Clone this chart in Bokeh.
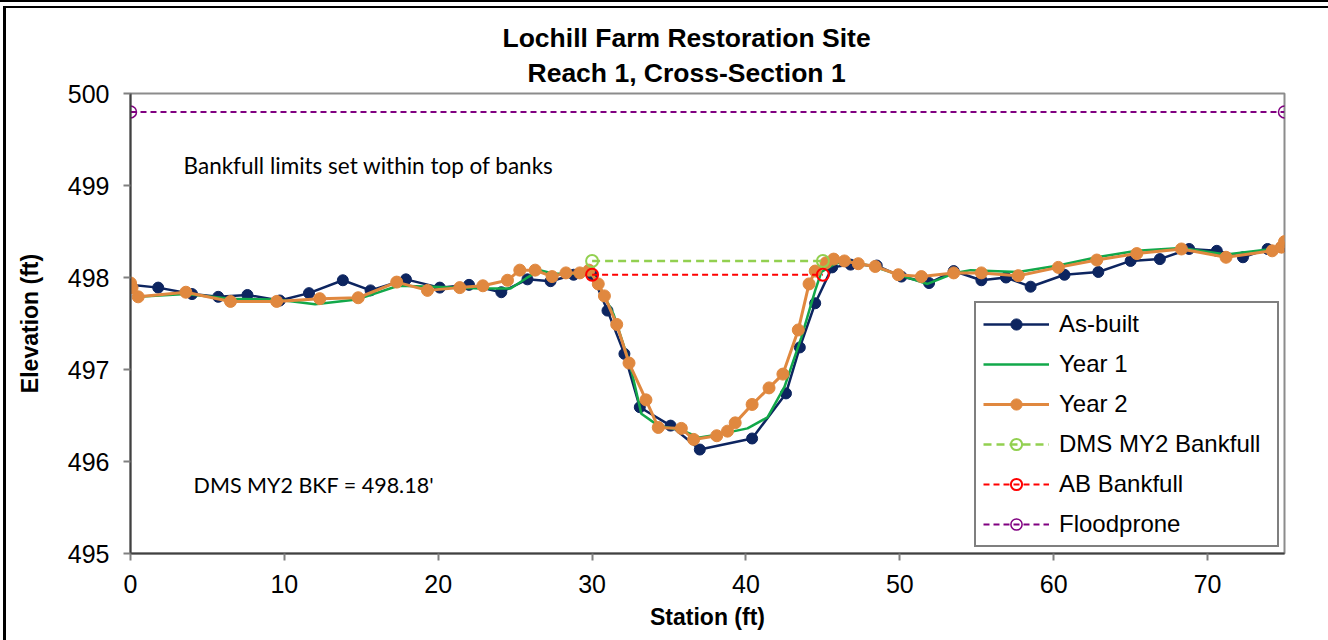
from bokeh.plotting import figure
from bokeh.models import Legend, LegendItem, Label, FixedTicker, Title
from bokeh.embed import file_html
from bokeh.resources import INLINE

# Survey data: station (ft) and elevation (ft)
asbuilt_sta = [0.0, 1.8, 4.0, 5.7, 7.6, 9.7, 11.6, 13.8, 15.6, 17.9, 20.1, 22.0, 24.1, 25.8,
               27.3, 28.8, 30.0, 31.0, 32.1, 33.1, 35.1, 37.0, 40.4, 42.6, 43.5, 44.5, 45.6,
               46.8, 48.5, 50.1, 51.9, 53.5, 55.3, 56.9, 58.5, 60.7, 62.9, 65.0, 66.9, 68.8,
               70.6, 72.3, 73.9, 74.8]
asbuilt_elev = [497.92, 497.89, 497.82, 497.79, 497.81, 497.75, 497.83, 497.97, 497.86, 497.98,
                497.89, 497.92, 497.84, 497.98, 497.96, 498.03, 498.03, 497.64, 497.17, 496.59,
                496.39, 496.13, 496.25, 496.74, 497.24, 497.72, 498.11, 498.14, 498.13, 498.01,
                497.94, 498.07, 497.97, 498.00, 497.90, 498.03, 498.06, 498.18, 498.20, 498.31,
                498.29, 498.22, 498.31, 498.33]

year1_sta = [0.0, 0.5, 3.6, 6.5, 9.5, 12.0, 14.7, 17.4, 19.7, 22.8, 24.7, 25.7, 26.6, 27.5,
             29.5, 30.1, 31.4, 32.5, 33.2, 34.3, 35.8, 37.0, 38.4, 40.1, 41.4, 42.5, 43.6,
             44.5, 44.9, 45.8, 46.5, 48.3, 50.1, 51.8, 53.6, 54.6, 57.7, 60.3, 62.8, 65.4,
             68.3, 71.2, 74.2, 75.0]
year1_elev = [497.90, 497.79, 497.82, 497.77, 497.76, 497.71, 497.76, 497.91, 497.90, 497.88,
              497.88, 497.99, 498.08, 498.04, 498.04, 498.02, 497.60, 497.03, 496.52, 496.39,
              496.34, 496.26, 496.30, 496.36, 496.48, 496.81, 497.35, 497.86, 498.06, 498.15,
              498.18, 498.12, 498.02, 497.93, 498.05, 498.08, 498.06, 498.13, 498.22, 498.29,
              498.32, 498.25, 498.31, 498.36]

year2_sta = [0.0, 0.1, 0.5, 3.6, 6.5, 9.5, 12.3, 14.8, 17.3, 19.3, 21.4, 22.9, 24.5, 25.3,
             26.3, 27.4, 28.3, 29.2, 29.8, 30.4, 30.8, 31.6, 32.4, 33.5, 34.3, 35.8, 36.6,
             38.1, 38.8, 39.3, 40.4, 41.5, 42.4, 43.4, 44.1, 44.5, 45.2, 45.7, 46.4, 47.3,
             48.4, 49.9, 51.4, 53.5, 55.3, 57.7, 60.3, 62.8, 65.4, 68.3, 71.2, 74.2, 74.8, 75.0]
year2_elev = [497.94, 497.89, 497.79, 497.84, 497.74, 497.74, 497.77, 497.78, 497.95, 497.86,
              497.89, 497.91, 497.97, 498.08, 498.08, 498.01, 498.05, 498.05, 498.08, 497.93,
              497.80, 497.49, 497.07, 496.67, 496.37, 496.36, 496.24, 496.28, 496.33, 496.42,
              496.62, 496.80, 496.95, 497.43, 497.93, 498.07, 498.16, 498.20, 498.18, 498.15,
              498.12, 498.03, 498.01, 498.05, 498.05, 498.02, 498.11, 498.19, 498.26, 498.31,
              498.22, 498.29, 498.33, 498.39]

dms_bkf_sta = [30.0, 45.0]
dms_bkf_elev = [498.18, 498.18]
ab_bkf_sta = [30.0, 45.0]
ab_bkf_elev = [498.03, 498.03]
floodprone_sta = [0.0, 75.0]
floodprone_elev = [499.8, 499.8]

x_ticks = [0, 10, 20, 30, 40, 50, 60, 70]
y_ticks = [495, 496, 497, 498, 499, 500]

NAVY = "#0d2560"
GREEN = "#12a84a"
ORANGE = "#e0883f"
LIGHT_GREEN = "#92d050"
RED = "#ff0000"
PURPLE = "#800080"
FONT = "Liberation Sans"

p = figure(width=1328, height=640, x_range=(0, 75), y_range=(495, 500),
           output_backend="svg", toolbar_location=None, title_location=None,
           min_border_left=130, min_border_right=44, min_border_top=93, min_border_bottom=87)

p.styles = {"box-shadow": "inset 0 2px 0 #000, inset 0 6px 0 #fff, inset 3px 0 0 #fff, "
                          "inset 6px 0 0 #000, inset 0 8px 0 #000"}
p.border_fill_alpha = 0
p.background_fill_color = "white"
p.outline_line_color = "#8c8c8c"
p.outline_line_width = 2
p.xgrid.visible = False
p.ygrid.visible = False

# two-line chart title, each line centred over the whole chart area
p.add_layout(Title(text="Reach 1, Cross-Section 1", align="left", offset=397, standoff=11,
                   text_font=FONT, text_font_size="26.5px", text_font_style="bold",
                   text_color="black"), "above")
p.add_layout(Title(text="Lochill Farm Restoration Site", align="left", offset=372, standoff=-4,
                   text_font=FONT, text_font_size="26.5px", text_font_style="bold",
                   text_color="black"), "above")

for ax in (p.xaxis[0], p.yaxis[0]):
    ax.axis_line_color = "#404040"
    ax.axis_line_width = 2
    ax.major_tick_line_color = "#808080"
    ax.major_tick_line_width = 2
    ax.major_tick_out = 7
    ax.major_tick_in = 0
    ax.minor_tick_line_color = None
    ax.major_label_text_font = FONT
    ax.major_label_text_font_size = "25px"
    ax.major_label_text_color = "black"
    ax.axis_label_text_font = FONT
    ax.axis_label_text_font_size = "23px"
    ax.axis_label_text_font_style = "bold"
    ax.axis_label_text_color = "black"

p.xaxis.ticker = FixedTicker(ticks=x_ticks)
p.yaxis.ticker = FixedTicker(ticks=y_ticks)
p.xaxis.axis_label = "Station (ft)"
p.yaxis.axis_label = "Elevation (ft)"
p.xaxis.major_label_standoff = 14
p.xaxis.axis_label_standoff = 8
p.yaxis.major_label_standoff = 14
p.yaxis.axis_label_standoff = 22

# cross-section surveys
ab_line = p.line(asbuilt_sta, asbuilt_elev, line_color=NAVY, line_width=2.5)
ab_pts = p.scatter(asbuilt_sta, asbuilt_elev, size=11, fill_color=NAVY, line_color=NAVY)
y1_line = p.line(year1_sta, year1_elev, line_color=GREEN, line_width=2.5)
y2_line = p.line(year2_sta, year2_elev, line_color=ORANGE, line_width=3)
y2_pts = p.scatter(year2_sta, year2_elev, size=12, fill_color=ORANGE, line_color=ORANGE)

# bankfull and floodprone reference lines
dms_line = p.line(dms_bkf_sta, dms_bkf_elev, line_color=LIGHT_GREEN, line_width=2.5, line_dash="8 5")
dms_pts = p.scatter(dms_bkf_sta, dms_bkf_elev, size=12, fill_alpha=0, line_color=LIGHT_GREEN, line_width=2)
abk_line = p.line(ab_bkf_sta, ab_bkf_elev, line_color=RED, line_width=2, line_dash="6 4")
abk_pts = p.scatter(ab_bkf_sta, ab_bkf_elev, size=12, fill_alpha=0, line_color=RED, line_width=2)
fp_line = p.line(floodprone_sta, floodprone_elev, line_color=PURPLE, line_width=2, line_dash="6 4")
fp_pts = p.scatter(floodprone_sta, floodprone_elev, size=12, fill_alpha=0, line_color=PURPLE, line_width=1.5)

p.add_layout(Label(x=3.45, y=499.22, text="Bankfull limits set within top of banks",
                   text_font="Lato", text_font_size="22.5px", text_baseline="middle",
                   text_color="black"))
p.add_layout(Label(x=4.1, y=495.74, text="DMS MY2 BKF = 498.18'",
                   text_font="Lato", text_font_size="21.5px", text_baseline="middle",
                   text_color="black"))

legend = Legend(items=[
    LegendItem(label="As-built", renderers=[ab_line, ab_pts]),
    LegendItem(label="Year 1", renderers=[y1_line]),
    LegendItem(label="Year 2", renderers=[y2_line, y2_pts]),
    LegendItem(label="DMS MY2 Bankfull", renderers=[dms_line, dms_pts]),
    LegendItem(label="AB Bankfull", renderers=[abk_line, abk_pts]),
    LegendItem(label="Floodprone", renderers=[fp_line, fp_pts]),
], location=(844, 6))
legend.padding = 7
legend.spacing = 12
legend.margin = 0
legend.glyph_width = 66
legend.glyph_height = 28
legend.label_height = 28
legend.label_width = 211
legend.label_standoff = 10
legend.label_text_font = FONT
legend.label_text_font_size = "24px"
legend.label_text_color = "black"
legend.border_line_color = "black"
legend.border_line_width = 2
legend.background_fill_color = "white"
legend.background_fill_alpha = 1
p.add_layout(legend)

open("out.html", "w").write(file_html(p, INLINE))
